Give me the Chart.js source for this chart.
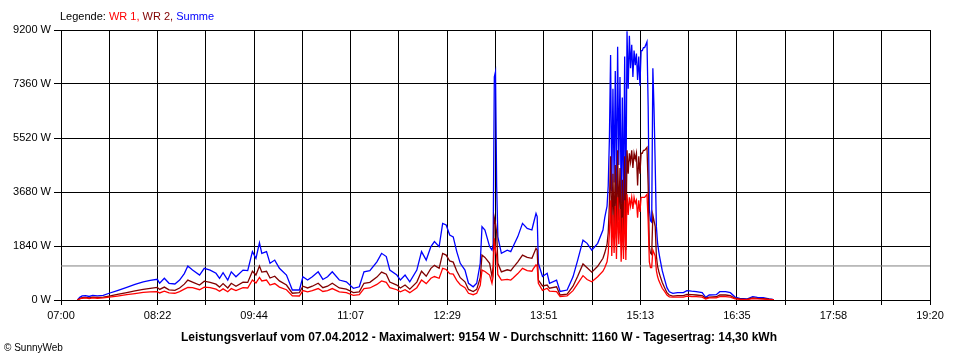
<!DOCTYPE html>
<html><head><meta charset="utf-8">
<script src="https://cdn.jsdelivr.net/npm/chart.js@4/dist/chart.umd.min.js"></script>
<style>
body{margin:0;background:#fff;}
#wrap{position:relative;width:960px;height:360px;font-family:'Liberation Sans',Arial,sans-serif;}
#legend{position:absolute;left:60px;top:10px;font-size:11px;line-height:13px;color:#000;white-space:nowrap;}
#title{position:absolute;left:0;width:958px;top:330px;text-align:center;font-size:12px;font-weight:bold;line-height:14px;white-space:nowrap;}
#copy{position:absolute;left:4px;top:342px;font-size:10px;line-height:12px;white-space:nowrap;}
</style></head>
<body>
<div id="wrap">
<canvas id="c" width="960" height="360"></canvas>
<div id="legend">Legende: <span style="color:#ff0000">WR 1,</span> <span style="color:#800000">WR 2,</span> <span style="color:#0000ff">Summe</span></div>
<div id="title">Leistungsverlauf vom 07.04.2012 - Maximalwert: 9154 W - Durchschnitt: 1160 W - Tagesertrag: 14,30 kWh</div>
<div id="copy">© SunnyWeb</div>
</div>
<script>
// minutes after 07:00
const minutes = [
14,16,18,21,24,27,31,36,41,48,
56,63,70,76,82,84,88,92,97,101,
105,108,112,118,122,127,132,135,138,142,
145,149,155,159,163,166,169,171,175,178,
182,186,192,197,203,206,210,214,219,223,
227,231,237,243,249,254,258,263,269,273,
277,280,286,289,293,297,303,307,311,315,
318,322,325,328,331,334,337,340,344,347,
351,354,357,358.5,361,365,367,368,369,370,
371,372,375,380,383,385,389,393,397,401,
402,404.5,405.5,406.5,410,414,416,422,425,431,
436,440,444.5,448,452,457,461.5,463,464,465,
466,467,468,469,470,471,472,473,474,475,
476,477,478,479,480,481,482,483,484,485,
486,487,488,489,490,491,492,493,494,495,
496,497,498,499,500,501,502,503,504,505,
506,507,508,509,510,512,514,516,518,521,
525,530,533,537,541,546,549,552,558,561,
566,570,574,578,584,589,593,598,603,606,
607];
const summe = [
0,90,140,150,120,160,140,160,230,320,
430,530,620,670,705,570,740,570,545,680,
900,1160,1020,850,1080,1020,910,740,930,680,
960,790,1020,1000,1650,1420,1950,1590,1650,1250,
1360,1080,850,340,340,790,680,790,960,700,
790,960,680,620,400,450,960,1000,1300,1590,
1480,1020,850,680,850,620,1020,1650,1360,1820,
1990,1820,2610,2555,2215,2150,1650,1250,1020,570,
450,570,1250,2500,2385,1820,1700,1900,7608,7780,
3860,2150,1590,1700,1650,1820,2160,2610,2440,2385,
2555,2950,2840,1250,800,910,570,680,290,340,
790,1360,2040,1930,1700,1930,2385,2800,3000,3200,
3900,5500,8350,3700,7200,4000,7800,3600,8630,4600,
7600,3300,6900,2900,8300,3100,9154,7200,9000,7900,
8700,7600,8500,8000,8400,7500,8300,7300,8500,8500,
8600,8600,8700,8800,6600,3100,2700,2650,7900,6500,
4600,2500,1950,1650,1420,1000,700,420,280,228,
250,250,320,300,285,250,92,170,180,284,
284,250,100,57,34,113,90,80,40,23,
0];
const wr2 = [
0,50,80,90,70,95,85,100,135,190,
255,310,365,395,430,360,440,345,330,410,
540,680,610,510,640,600,540,440,560,410,
570,470,610,600,980,850,1160,950,980,750,
810,650,510,230,250,470,410,470,570,420,
470,570,410,370,250,280,570,600,780,950,
880,610,510,410,510,370,610,980,810,1080,
1180,1080,1590,1530,1330,1290,990,760,620,360,
290,360,760,1530,1450,1250,800,1150,2800,2600,
2300,1250,960,1030,1000,1100,1300,1530,1450,1420,
1520,1760,1700,680,480,510,400,450,170,200,
470,810,1230,1100,950,1150,1420,1600,1750,1900,
2300,3300,4900,2200,4300,2400,4600,2100,5100,2700,
4500,2000,4100,1700,4900,1700,5100,4300,5000,4700,
5100,4500,5000,4800,5000,3900,4900,4300,5000,5000,
5100,5100,5150,5200,3900,1800,1600,1550,2900,2700,
2500,1500,1150,980,840,600,420,250,170,135,
150,150,190,180,170,150,60,100,110,170,
170,150,60,35,20,70,55,50,25,14,
0];
const wr1 = [
0,40,60,70,50,70,60,70,100,135,
180,220,260,280,285,240,300,240,230,285,
370,432,420,350,440,420,370,300,380,280,
390,320,420,410,680,580,770,650,680,510,
560,440,350,140,136,320,280,320,390,290,
320,390,280,250,160,180,390,410,530,650,
600,420,350,280,350,250,420,680,560,740,
800,740,1080,1040,900,880,670,520,420,230,
180,230,500,1020,970,850,570,800,2100,1700,
1500,870,680,700,680,750,900,1080,1000,980,
1050,1200,1150,570,330,400,300,284,120,140,
320,560,830,700,620,790,980,1100,1200,1300,
1600,2300,3400,1500,2900,1600,3200,1400,3500,1900,
3100,1300,2800,1400,3400,1360,3600,2900,3500,3200,
3500,3100,3500,3300,3400,2800,3400,3000,3500,3500,
3500,3500,3550,3600,2700,1300,1100,1100,1700,1600,
1500,1000,800,670,580,400,290,170,110,95,
100,100,130,120,115,100,35,70,70,115,
115,100,40,22,14,45,35,30,15,9,
0];
const average = 1160;
const xTickLabels = ['07:00','08:22','09:44','11:07','12:29','13:51','15:13','16:35','17:58','19:20'];
const yTicks = [0,1840,3680,5520,7360,9200];
const xMax = 740; // 07:00 .. 19:20
const xGridCount = 18;

const pts = arr => minutes.map((m,i)=>({x:m,y:arr[i]}));

Chart.defaults.font.family = "'Liberation Sans', Arial, sans-serif";
Chart.defaults.font.size = 11;
Chart.defaults.color = '#000';

new Chart(document.getElementById('c'), {
  type: 'line',
  data: {
    datasets: [
      {label:'WR 1', data: pts(wr1), borderColor:'#ff0000', borderWidth:1.3, pointRadius:0, tension:0},
      {label:'WR 2', data: pts(wr2), borderColor:'#800000', borderWidth:1.3, pointRadius:0, tension:0},
      {label:'Summe', data: pts(summe), borderColor:'#0000ff', borderWidth:1.3, pointRadius:0, tension:0},
      {label:'Durchschnitt', data:[{x:0,y:average},{x:xMax,y:average}], borderColor:'#808080', borderWidth:1, pointRadius:0}
    ]
  },
  options: {
    responsive:false, animation:false, devicePixelRatio:1,
    layout:{padding:{left:0,right:30,top:30,bottom:0}},
    plugins:{legend:{display:false}, tooltip:{enabled:false}},
    scales:{
      x:{
        type:'linear', min:0, max:xMax,
        afterBuildTicks: s => { s.ticks = Array.from({length:xGridCount+1},(_,i)=>({value:i*xMax/xGridCount})); },
        afterFit: s => { s.height = 60; },
        ticks:{autoSkip:false, maxRotation:0, padding:4,
          callback:(v,i)=> i%2===0 ? xTickLabels[i/2] : ''},
        grid:{color:'#000', lineWidth:1, tickLength:5, drawTicks:true},
        border:{color:'#000', width:1}
      },
      y:{
        min:0, max:9200,
        afterBuildTicks: s => { s.ticks = yTicks.map(v=>({value:v})); },
        afterFit: s => { s.width = 61; },
        ticks:{padding:3, callback:v=> v+' W'},
        grid:{color:'#000', lineWidth:1, tickLength:7, drawTicks:true},
        border:{color:'#000', width:1}
      }
    }
  }
});
</script>
</body></html>
